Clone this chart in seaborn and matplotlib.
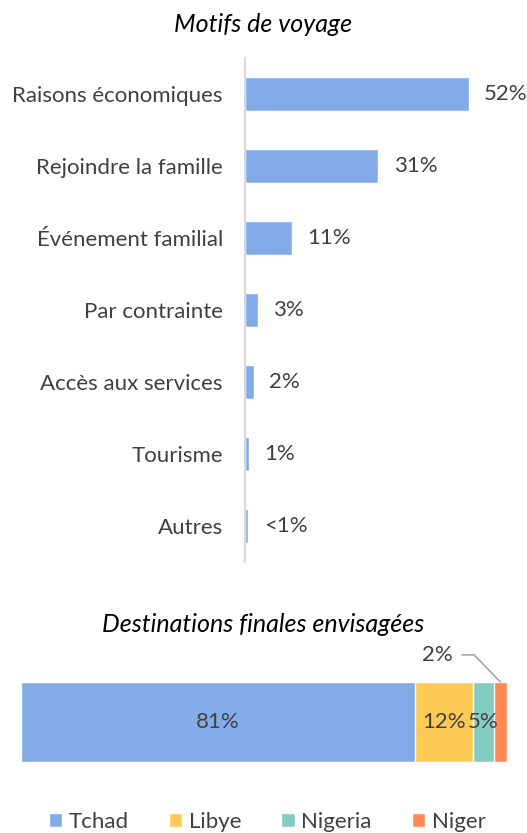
import numpy as np
import pandas as pd
import matplotlib.pyplot as plt
import seaborn as sns

# Datos del grafico superior
motifs = ["Raisons économiques", "Rejoindre la famille", "Événement familial",
          "Par contrainte", "Accès aux services", "Tourisme", "Autres"]
motifs_valeurs = [52, 31, 11, 3, 2, 1, 0.8]
motifs_etiquettes = ["52%", "31%", "11%", "3%", "2%", "1%", "<1%"]

# Datos del grafico inferior
destinations = ["Tchad", "Libye", "Nigeria", "Niger"]
dest_valeurs = [81, 12, 4.3, 2.7]
dest_etiquettes = ["81%", "12%", "5%", "2%"]
dest_couleurs = ["#82ABE8", "#FFC955", "#84CBC1", "#FF8A55"]

sns.set_theme(style="white")
plt.rcParams['font.family'] = ['Lato', 'DejaVu Sans']
gris = "#404040"
taille = 16

fig = plt.figure(figsize=(5.27, 8.33), dpi=100)

# Grafico de barras horizontales: motifs
ax1 = fig.add_axes([0.465, 0.325, 0.535, 0.605])
df_motifs = pd.DataFrame({"Motif": motifs, "Valeur": motifs_valeurs})
sns.barplot(data=df_motifs, y="Motif", x="Valeur", color=dest_couleurs[0],
            saturation=1, width=0.47, ax=ax1)
ax1.set_xlim(0, 65.5)
ax1.set_ylim(6.5, -0.5)
ax1.set(xlabel="", ylabel="")
ax1.set_xticks([])
for s in ["top", "right", "bottom"]:
    ax1.spines[s].set_visible(False)
ax1.spines["left"].set_color("#D9D9D9")
ax1.spines["left"].set_linewidth(1.5)
ax1.tick_params(axis="y", length=0, pad=16, labelsize=taille, labelcolor=gris)
for i, (v, t) in enumerate(zip(motifs_valeurs, motifs_etiquettes)):
    ax1.annotate(t, (v, i), xytext=(11, 0), textcoords="offset points",
                 va="center", ha="left", fontsize=taille, color=gris)
fig.text(0.5, 1 - 25 / 833, "Motifs de voyage", ha="center", va="center",
         fontsize=18, style="italic", color="black")

# Grafico de barra apilada: destinations
ax2 = fig.add_axes([0.0398, 0.0852, 0.9222, 0.096])
cumul = np.cumsum(dest_valeurs)
for i in reversed(range(len(destinations))):
    sns.barplot(x=[cumul[i]], y=[0], orient="h", color=dest_couleurs[i],
                saturation=1, width=1.0, ax=ax2, label=destinations[i])
ax2.set_xlim(0, cumul[-1])
ax2.set_ylim(0.5, -0.5)
ax2.axis("off")
debut = np.concatenate([[0], cumul[:-1]])
for i in range(3):
    ax2.text(debut[i] + dest_valeurs[i] / 2, 0, dest_etiquettes[i], ha="center",
             va="center", fontsize=taille, color=gris)
# Etiqueta 2% con linea guia
ax2.annotate(dest_etiquettes[3], xy=(debut[3] + dest_valeurs[3] / 2, -0.5),
             xytext=(85.6, -0.84), textcoords="data", ha="center", va="center",
             fontsize=taille, color=gris, annotation_clip=False,
             arrowprops=dict(arrowstyle="-", color="#A6A6A6", lw=1.2,
                             connectionstyle="angle,angleA=0,angleB=134,rad=0",
                             patchA=None, shrinkA=18, shrinkB=0))
fig.text(0.5, 1 - 625 / 833, "Destinations finales envisagées", ha="center",
         va="center", fontsize=18, style="italic", color="black")

handles, labels = ax2.get_legend_handles_labels()
ordre = [labels.index(d) for d in destinations]
fig.legend([handles[k] for k in ordre], destinations, loc="center",
           bbox_to_anchor=(0.507, 1 - 822 / 833), ncol=4, frameon=False,
           fontsize=taille, labelcolor=gris, handlelength=0.6, handleheight=0.6,
           handletextpad=0.3, columnspacing=1.8)
if ax2.get_legend() is not None:
    ax2.get_legend().remove()

fig.savefig("out.png", dpi=100)
